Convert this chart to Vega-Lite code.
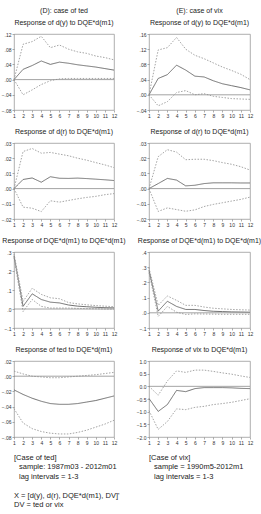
{
  "$schema": "https://vega.github.io/schema/vega-lite/v6.json",
  "padding": {"left": 0, "top": 6, "right": 0, "bottom": 0},
  "datasets": {
    "irf": [
      {"p": "Ddy", "t": 1, "r": 0, "u": 0, "l": 0},
      {"p": "Ddy", "t": 2, "r": 0.027, "u": 0.093, "l": -0.04},
      {"p": "Ddy", "t": 3, "r": 0.037, "u": 0.1, "l": -0.027},
      {"p": "Ddy", "t": 4, "r": 0.049, "u": 0.114, "l": -0.013},
      {"p": "Ddy", "t": 5, "r": 0.04, "u": 0.084, "l": -0.003},
      {"p": "Ddy", "t": 6, "r": 0.046, "u": 0.091, "l": 0.002},
      {"p": "Ddy", "t": 7, "r": 0.043, "u": 0.08, "l": 0.003},
      {"p": "Ddy", "t": 8, "r": 0.039, "u": 0.073, "l": 0.003},
      {"p": "Ddy", "t": 9, "r": 0.036, "u": 0.069, "l": 0.003},
      {"p": "Ddy", "t": 10, "r": 0.033, "u": 0.062, "l": 0.003},
      {"p": "Ddy", "t": 11, "r": 0.029, "u": 0.058, "l": 0.003},
      {"p": "Ddy", "t": 12, "r": 0.025, "u": 0.052, "l": 0.003},

      {"p": "Edy", "t": 1, "r": 0, "u": 0, "l": 0},
      {"p": "Edy", "t": 2, "r": 0.043, "u": 0.118, "l": -0.029},
      {"p": "Edy", "t": 3, "r": 0.053, "u": 0.124, "l": -0.018},
      {"p": "Edy", "t": 4, "r": 0.078, "u": 0.151, "l": 0.006},
      {"p": "Edy", "t": 5, "r": 0.065, "u": 0.12, "l": 0.011},
      {"p": "Edy", "t": 6, "r": 0.049, "u": 0.104, "l": 0.0},
      {"p": "Edy", "t": 7, "r": 0.047, "u": 0.095, "l": 0.003},
      {"p": "Edy", "t": 8, "r": 0.037, "u": 0.084, "l": -0.004},
      {"p": "Edy", "t": 9, "r": 0.029, "u": 0.073, "l": -0.007},
      {"p": "Edy", "t": 10, "r": 0.024, "u": 0.064, "l": -0.01},
      {"p": "Edy", "t": 11, "r": 0.019, "u": 0.054, "l": -0.011},
      {"p": "Edy", "t": 12, "r": 0.013, "u": 0.04, "l": -0.012},

      {"p": "Ddr", "t": 1, "r": 0, "u": 0, "l": 0},
      {"p": "Ddr", "t": 2, "r": 0.006, "u": 0.0244, "l": -0.0122},
      {"p": "Ddr", "t": 3, "r": 0.007, "u": 0.0264, "l": -0.0129},
      {"p": "Ddr", "t": 4, "r": 0.0042, "u": 0.0233, "l": -0.0151},
      {"p": "Ddr", "t": 5, "r": 0.0078, "u": 0.0238, "l": -0.008},
      {"p": "Ddr", "t": 6, "r": 0.0068, "u": 0.0227, "l": -0.0089},
      {"p": "Ddr", "t": 7, "r": 0.0067, "u": 0.0216, "l": -0.0078},
      {"p": "Ddr", "t": 8, "r": 0.0069, "u": 0.02, "l": -0.0067},
      {"p": "Ddr", "t": 9, "r": 0.0066, "u": 0.0187, "l": -0.0058},
      {"p": "Ddr", "t": 10, "r": 0.0062, "u": 0.0171, "l": -0.0051},
      {"p": "Ddr", "t": 11, "r": 0.0058, "u": 0.0156, "l": -0.004},
      {"p": "Ddr", "t": 12, "r": 0.0053, "u": 0.0138, "l": -0.0033},

      {"p": "Edr", "t": 1, "r": 0, "u": 0, "l": 0},
      {"p": "Edr", "t": 2, "r": 0.0033, "u": 0.021, "l": -0.015},
      {"p": "Edr", "t": 3, "r": 0.0067, "u": 0.0256, "l": -0.0127},
      {"p": "Edr", "t": 4, "r": 0.0056, "u": 0.024, "l": -0.0138},
      {"p": "Edr", "t": 5, "r": 0.0018, "u": 0.019, "l": -0.0149},
      {"p": "Edr", "t": 6, "r": 0.0022, "u": 0.0193, "l": -0.014},
      {"p": "Edr", "t": 7, "r": 0.0033, "u": 0.0193, "l": -0.0118},
      {"p": "Edr", "t": 8, "r": 0.0038, "u": 0.0184, "l": -0.0104},
      {"p": "Edr", "t": 9, "r": 0.0038, "u": 0.0171, "l": -0.0093},
      {"p": "Edr", "t": 10, "r": 0.0038, "u": 0.016, "l": -0.0082},
      {"p": "Edr", "t": 11, "r": 0.0037, "u": 0.0144, "l": -0.0071},
      {"p": "Edr", "t": 12, "r": 0.0037, "u": 0.0122, "l": -0.0056},

      {"p": "Dq", "t": 1, "r": 0.28, "u": 0.29, "l": 0.27},
      {"p": "Dq", "t": 2, "r": 0.014, "u": 0.04, "l": -0.013},
      {"p": "Dq", "t": 3, "r": 0.08, "u": 0.109, "l": 0.05},
      {"p": "Dq", "t": 4, "r": 0.05, "u": 0.077, "l": 0.014},
      {"p": "Dq", "t": 5, "r": 0.036, "u": 0.059, "l": 0.005},
      {"p": "Dq", "t": 6, "r": 0.032, "u": 0.054, "l": 0.005},
      {"p": "Dq", "t": 7, "r": 0.021, "u": 0.034, "l": 0.005},
      {"p": "Dq", "t": 8, "r": 0.015, "u": 0.027, "l": 0.003},
      {"p": "Dq", "t": 9, "r": 0.012, "u": 0.022, "l": 0.002},
      {"p": "Dq", "t": 10, "r": 0.009, "u": 0.018, "l": 0.001},
      {"p": "Dq", "t": 11, "r": 0.007, "u": 0.015, "l": 0.0},
      {"p": "Dq", "t": 12, "r": 0.006, "u": 0.012, "l": 0.0},

      {"p": "Eq", "t": 1, "r": 0.28, "u": 0.295, "l": 0.265},
      {"p": "Eq", "t": 2, "r": 0.011, "u": 0.049, "l": -0.024},
      {"p": "Eq", "t": 3, "r": 0.076, "u": 0.111, "l": 0.042},
      {"p": "Eq", "t": 4, "r": 0.042, "u": 0.082, "l": 0.004},
      {"p": "Eq", "t": 5, "r": 0.022, "u": 0.049, "l": -0.011},
      {"p": "Eq", "t": 6, "r": 0.022, "u": 0.049, "l": -0.007},
      {"p": "Eq", "t": 7, "r": 0.015, "u": 0.038, "l": -0.008},
      {"p": "Eq", "t": 8, "r": 0.01, "u": 0.03, "l": -0.009},
      {"p": "Eq", "t": 9, "r": 0.008, "u": 0.026, "l": -0.01},
      {"p": "Eq", "t": 10, "r": 0.006, "u": 0.022, "l": -0.01},
      {"p": "Eq", "t": 11, "r": 0.005, "u": 0.02, "l": -0.01},
      {"p": "Eq", "t": 12, "r": 0.004, "u": 0.018, "l": -0.01},

      {"p": "Dt", "t": 1, "r": -0.018, "u": 0.0067, "l": -0.0427},
      {"p": "Dt", "t": 2, "r": -0.024, "u": 0.003, "l": -0.0616},
      {"p": "Dt", "t": 3, "r": -0.029, "u": 0.0, "l": -0.069},
      {"p": "Dt", "t": 4, "r": -0.033, "u": -0.001, "l": -0.0728},
      {"p": "Dt", "t": 5, "r": -0.036, "u": -0.002, "l": -0.075},
      {"p": "Dt", "t": 6, "r": -0.037, "u": -0.002, "l": -0.076},
      {"p": "Dt", "t": 7, "r": -0.037, "u": -0.001, "l": -0.076},
      {"p": "Dt", "t": 8, "r": -0.036, "u": 0.0, "l": -0.074},
      {"p": "Dt", "t": 9, "r": -0.034, "u": 0.001, "l": -0.071},
      {"p": "Dt", "t": 10, "r": -0.032, "u": 0.002, "l": -0.067},
      {"p": "Dt", "t": 11, "r": -0.029, "u": 0.0035, "l": -0.063},
      {"p": "Dt", "t": 12, "r": -0.026, "u": 0.005, "l": -0.058},

      {"p": "Ev", "t": 1, "r": -0.48, "u": 0.0, "l": -0.96},
      {"p": "Ev", "t": 2, "r": -0.99, "u": -0.35, "l": -1.7},
      {"p": "Ev", "t": 3, "r": -0.72, "u": 0.21, "l": -1.39},
      {"p": "Ev", "t": 4, "r": -0.16, "u": 0.61, "l": -0.89},
      {"p": "Ev", "t": 5, "r": -0.21, "u": 0.55, "l": -0.92},
      {"p": "Ev", "t": 6, "r": -0.09, "u": 0.64, "l": -0.83},
      {"p": "Ev", "t": 7, "r": -0.05, "u": 0.64, "l": -0.79},
      {"p": "Ev", "t": 8, "r": -0.05, "u": 0.59, "l": -0.72},
      {"p": "Ev", "t": 9, "r": -0.05, "u": 0.53, "l": -0.68},
      {"p": "Ev", "t": 10, "r": -0.06, "u": 0.48, "l": -0.63},
      {"p": "Ev", "t": 11, "r": -0.08, "u": 0.41, "l": -0.56},
      {"p": "Ev", "t": 12, "r": -0.09, "u": 0.35, "l": -0.49}
    ],
    "notes": [
      {"block": "ted", "line": 1, "indent": 0, "txt": "[Case of ted]"},
      {"block": "ted", "line": 2, "indent": 1, "txt": "sample: 1987m03 - 2012m01"},
      {"block": "ted", "line": 3, "indent": 1, "txt": "lag intervals = 1-3"},
      {"block": "ted", "line": 5, "indent": 0, "txt": "X = [d(y), d(r), DQE*d(m1), DV]'"},
      {"block": "ted", "line": 6, "indent": 0, "txt": "DV = ted or vix"},
      {"block": "vix", "line": 1, "indent": 0, "txt": "[Case of vix]"},
      {"block": "vix", "line": 2, "indent": 1, "txt": "sample = 1990m5-2012m1"},
      {"block": "vix", "line": 3, "indent": 1, "txt": "lag intervals = 1-3"}
    ]
  },
  "data": {"name": "irf"},
  "columns": 2,
  "bounds": "flush",
  "spacing": {"row": 33, "column": 35},
  "concat": [
    {
      "width": 100, "height": 76,
      "title": {"text": ["(D): case of ted", "Response of d(y) to DQE*d(m1)"]},
      "layer": [
        {
          "transform": [{"filter": "datum.p === 'Ddy'"}, {"fold": ["r", "u", "l"], "as": ["s", "v"]}],
          "mark": {"type": "line", "strokeWidth": 0.9},
          "encoding": {
            "x": {"field": "t", "type": "quantitative", "scale": {"domain": [1, 12], "nice": false}, "axis": {"values": [1,2,3,4,5,6,7,8,9,10,11,12], "tickCount": 12, "title": null}},
            "y": {"field": "v", "type": "quantitative", "scale": {"domain": [-0.08, 0.12], "nice": false, "zero": false}, "axis": {"values": [-0.08,-0.04,0,0.04,0.08,0.12], "tickCount": 12, "labelExpr": "replace(format(datum.value, '.2f'), '0.', '.')", "title": null}},
            "color": {"field": "s", "type": "nominal", "scale": {"domain": ["r","u","l"], "range": ["#606060","#9a9a9a","#9a9a9a"]}, "legend": null},
            "strokeDash": {"field": "s", "type": "nominal", "scale": {"domain": ["r","u","l"], "range": [[1,0],[1.5,1.5],[1.5,1.5]]}, "legend": null}
          }
        },
        {"data": {"values": [{"z": 0}]}, "mark": {"type": "rule", "color": "#8c8c8c", "strokeWidth": 0.8}, "encoding": {"y": {"datum": 0}}}
      ]
    },
    {
      "width": 101, "height": 76,
      "title": {"text": ["(E): case of vix", "Response of d(y) to DQE*d(m1)"]},
      "layer": [
        {
          "transform": [{"filter": "datum.p === 'Edy'"}, {"fold": ["r", "u", "l"], "as": ["s", "v"]}],
          "mark": {"type": "line", "strokeWidth": 0.9},
          "encoding": {
            "x": {"field": "t", "type": "quantitative", "scale": {"domain": [1, 12], "nice": false}, "axis": {"values": [1,2,3,4,5,6,7,8,9,10,11,12], "tickCount": 12, "title": null}},
            "y": {"field": "v", "type": "quantitative", "scale": {"domain": [-0.04, 0.16], "nice": false, "zero": false}, "axis": {"values": [-0.04,0,0.04,0.08,0.12,0.16], "tickCount": 12, "labelExpr": "replace(format(datum.value, '.2f'), '0.', '.')", "title": null}},
            "color": {"field": "s", "type": "nominal", "scale": {"domain": ["r","u","l"], "range": ["#606060","#9a9a9a","#9a9a9a"]}, "legend": null},
            "strokeDash": {"field": "s", "type": "nominal", "scale": {"domain": ["r","u","l"], "range": [[1,0],[1.5,1.5],[1.5,1.5]]}, "legend": null}
          }
        },
        {"data": {"values": [{"z": 0}]}, "mark": {"type": "rule", "color": "#8c8c8c", "strokeWidth": 0.8}, "encoding": {"y": {"datum": 0}}}
      ]
    },
    {
      "width": 100, "height": 76,
      "title": "Response of d(r) to DQE*d(m1)",
      "layer": [
        {
          "transform": [{"filter": "datum.p === 'Ddr'"}, {"fold": ["r", "u", "l"], "as": ["s", "v"]}],
          "mark": {"type": "line", "strokeWidth": 0.9},
          "encoding": {
            "x": {"field": "t", "type": "quantitative", "scale": {"domain": [1, 12], "nice": false}, "axis": {"values": [1,2,3,4,5,6,7,8,9,10,11,12], "tickCount": 12, "title": null}},
            "y": {"field": "v", "type": "quantitative", "scale": {"domain": [-0.02, 0.03], "nice": false, "zero": false}, "axis": {"values": [-0.02,-0.01,0,0.01,0.02,0.03], "tickCount": 12, "labelExpr": "replace(format(datum.value, '.2f'), '0.', '.')", "title": null}},
            "color": {"field": "s", "type": "nominal", "scale": {"domain": ["r","u","l"], "range": ["#606060","#9a9a9a","#9a9a9a"]}, "legend": null},
            "strokeDash": {"field": "s", "type": "nominal", "scale": {"domain": ["r","u","l"], "range": [[1,0],[1.5,1.5],[1.5,1.5]]}, "legend": null}
          }
        },
        {"data": {"values": [{"z": 0}]}, "mark": {"type": "rule", "color": "#8c8c8c", "strokeWidth": 0.8}, "encoding": {"y": {"datum": 0}}}
      ]
    },
    {
      "width": 101, "height": 76,
      "title": "Response of d(r) to DQE*d(m1)",
      "layer": [
        {
          "transform": [{"filter": "datum.p === 'Edr'"}, {"fold": ["r", "u", "l"], "as": ["s", "v"]}],
          "mark": {"type": "line", "strokeWidth": 0.9},
          "encoding": {
            "x": {"field": "t", "type": "quantitative", "scale": {"domain": [1, 12], "nice": false}, "axis": {"values": [1,2,3,4,5,6,7,8,9,10,11,12], "tickCount": 12, "title": null}},
            "y": {"field": "v", "type": "quantitative", "scale": {"domain": [-0.02, 0.03], "nice": false, "zero": false}, "axis": {"values": [-0.02,-0.01,0,0.01,0.02,0.03], "tickCount": 12, "labelExpr": "replace(format(datum.value, '.2f'), '0.', '.')", "title": null}},
            "color": {"field": "s", "type": "nominal", "scale": {"domain": ["r","u","l"], "range": ["#606060","#9a9a9a","#9a9a9a"]}, "legend": null},
            "strokeDash": {"field": "s", "type": "nominal", "scale": {"domain": ["r","u","l"], "range": [[1,0],[1.5,1.5],[1.5,1.5]]}, "legend": null}
          }
        },
        {"data": {"values": [{"z": 0}]}, "mark": {"type": "rule", "color": "#8c8c8c", "strokeWidth": 0.8}, "encoding": {"y": {"datum": 0}}}
      ]
    },
    {
      "width": 100, "height": 76,
      "title": "Response of DQE*d(m1) to DQE*d(m1)",
      "layer": [
        {
          "transform": [{"filter": "datum.p === 'Dq'"}, {"fold": ["r", "u", "l"], "as": ["s", "v"]}],
          "mark": {"type": "line", "strokeWidth": 0.9},
          "encoding": {
            "x": {"field": "t", "type": "quantitative", "scale": {"domain": [1, 12], "nice": false}, "axis": {"values": [1,2,3,4,5,6,7,8,9,10,11,12], "tickCount": 12, "title": null}},
            "y": {"field": "v", "type": "quantitative", "scale": {"domain": [-0.1, 0.3], "nice": false, "zero": false}, "axis": {"values": [-0.1,0,0.1,0.2,0.3], "tickCount": 12, "labelExpr": "replace(format(datum.value, '.1f'), '0.', '.')", "title": null}},
            "color": {"field": "s", "type": "nominal", "scale": {"domain": ["r","u","l"], "range": ["#606060","#9a9a9a","#9a9a9a"]}, "legend": null},
            "strokeDash": {"field": "s", "type": "nominal", "scale": {"domain": ["r","u","l"], "range": [[1,0],[1.5,1.5],[1.5,1.5]]}, "legend": null}
          }
        },
        {"data": {"values": [{"z": 0}]}, "mark": {"type": "rule", "color": "#8c8c8c", "strokeWidth": 0.8}, "encoding": {"y": {"datum": 0}}}
      ]
    },
    {
      "width": 101, "height": 76,
      "title": "Response of DQE*d(m1) to DQE*d(m1)",
      "layer": [
        {
          "transform": [{"filter": "datum.p === 'Eq'"}, {"fold": ["r", "u", "l"], "as": ["s", "v"]}],
          "mark": {"type": "line", "strokeWidth": 0.9},
          "encoding": {
            "x": {"field": "t", "type": "quantitative", "scale": {"domain": [1, 12], "nice": false}, "axis": {"values": [1,2,3,4,5,6,7,8,9,10,11,12], "tickCount": 12, "title": null}},
            "y": {"field": "v", "type": "quantitative", "scale": {"domain": [-0.1, 0.4], "nice": false, "zero": false}, "axis": {"values": [-0.1,0,0.1,0.2,0.3,0.4], "tickCount": 12, "labelExpr": "replace(format(datum.value, '.1f'), '0.', '.')", "title": null}},
            "color": {"field": "s", "type": "nominal", "scale": {"domain": ["r","u","l"], "range": ["#606060","#9a9a9a","#9a9a9a"]}, "legend": null},
            "strokeDash": {"field": "s", "type": "nominal", "scale": {"domain": ["r","u","l"], "range": [[1,0],[1.5,1.5],[1.5,1.5]]}, "legend": null}
          }
        },
        {"data": {"values": [{"z": 0}]}, "mark": {"type": "rule", "color": "#8c8c8c", "strokeWidth": 0.8}, "encoding": {"y": {"datum": 0}}}
      ]
    },
    {
      "width": 100, "height": 76,
      "title": "Response of ted to DQE*d(m1)",
      "layer": [
        {
          "transform": [{"filter": "datum.p === 'Dt'"}, {"fold": ["r", "u", "l"], "as": ["s", "v"]}],
          "mark": {"type": "line", "strokeWidth": 0.9},
          "encoding": {
            "x": {"field": "t", "type": "quantitative", "scale": {"domain": [1, 12], "nice": false}, "axis": {"values": [1,2,3,4,5,6,7,8,9,10,11,12], "tickCount": 12, "title": null}},
            "y": {"field": "v", "type": "quantitative", "scale": {"domain": [-0.08, 0.02], "nice": false, "zero": false}, "axis": {"values": [-0.08,-0.06,-0.04,-0.02,0,0.02], "tickCount": 12, "labelExpr": "replace(format(datum.value, '.2f'), '0.', '.')", "title": null}},
            "color": {"field": "s", "type": "nominal", "scale": {"domain": ["r","u","l"], "range": ["#606060","#9a9a9a","#9a9a9a"]}, "legend": null},
            "strokeDash": {"field": "s", "type": "nominal", "scale": {"domain": ["r","u","l"], "range": [[1,0],[1.5,1.5],[1.5,1.5]]}, "legend": null}
          }
        },
        {"data": {"values": [{"z": 0}]}, "mark": {"type": "rule", "color": "#8c8c8c", "strokeWidth": 0.8}, "encoding": {"y": {"datum": 0}}}
      ]
    },
    {
      "width": 101, "height": 76,
      "title": "Response of vix to DQE*d(m1)",
      "layer": [
        {
          "transform": [{"filter": "datum.p === 'Ev'"}, {"fold": ["r", "u", "l"], "as": ["s", "v"]}],
          "mark": {"type": "line", "strokeWidth": 0.9},
          "encoding": {
            "x": {"field": "t", "type": "quantitative", "scale": {"domain": [1, 12], "nice": false}, "axis": {"values": [1,2,3,4,5,6,7,8,9,10,11,12], "tickCount": 12, "title": null}},
            "y": {"field": "v", "type": "quantitative", "scale": {"domain": [-2, 1], "nice": false, "zero": false}, "axis": {"values": [-2,-1.5,-1,-0.5,0,0.5,1], "tickCount": 12, "format": ".1f", "title": null}},
            "color": {"field": "s", "type": "nominal", "scale": {"domain": ["r","u","l"], "range": ["#606060","#9a9a9a","#9a9a9a"]}, "legend": null},
            "strokeDash": {"field": "s", "type": "nominal", "scale": {"domain": ["r","u","l"], "range": [[1,0],[1.5,1.5],[1.5,1.5]]}, "legend": null}
          }
        },
        {"data": {"values": [{"z": 0}]}, "mark": {"type": "rule", "color": "#8c8c8c", "strokeWidth": 0.8}, "encoding": {"y": {"datum": 0}}}
      ]
    },
    {
      "width": 100, "height": 40,
      "data": {"name": "notes"},
      "view": {"stroke": null},
      "transform": [{"filter": "datum.block === 'ted'"}],
      "mark": {"type": "text", "align": "left", "baseline": "middle", "fontSize": 7.5, "color": "#222"},
      "encoding": {
        "x": {"field": "indent", "type": "quantitative", "scale": {"domain": [0, 1], "range": [0, 5]}, "axis": null},
        "y": {"field": "line", "type": "quantitative", "scale": {"domain": [1, 6], "range": [-12, 35]}, "axis": null},
        "text": {"field": "txt"}
      }
    },
    {
      "width": 101, "height": 40,
      "data": {"name": "notes"},
      "view": {"stroke": null},
      "transform": [{"filter": "datum.block === 'vix'"}],
      "mark": {"type": "text", "align": "left", "baseline": "middle", "fontSize": 7.5, "color": "#222"},
      "encoding": {
        "x": {"field": "indent", "type": "quantitative", "scale": {"domain": [0, 1], "range": [0, 5]}, "axis": null},
        "y": {"field": "line", "type": "quantitative", "scale": {"domain": [1, 6], "range": [-12, 35]}, "axis": null},
        "text": {"field": "txt"}
      }
    }
  ],
  "config": {
    "font": "Liberation Sans",
    "view": {"stroke": "#9a9a9a", "strokeWidth": 0.8},
    "axis": {"labelFontSize": 5, "labelColor": "#333", "tickColor": "#777", "tickSize": 2, "tickWidth": 0.6, "domain": false, "grid": false, "labelPadding": 1, "labelOverlap": false, "labelFlush": false},
    "title": {"fontSize": 7, "fontWeight": "normal", "color": "#222", "offset": 6, "lineHeight": 12}
  }
}
